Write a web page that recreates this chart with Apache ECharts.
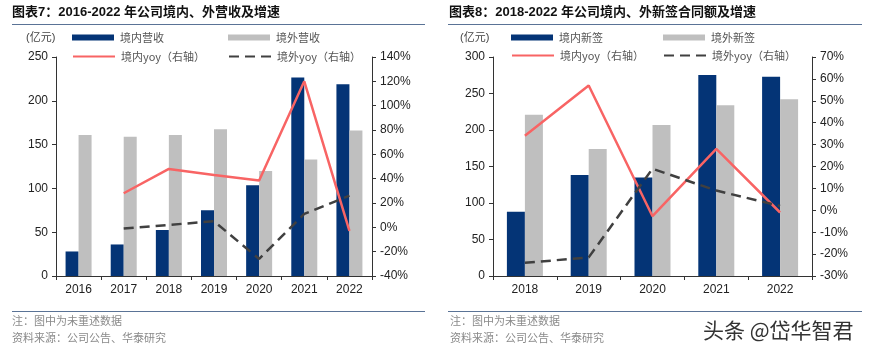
<!DOCTYPE html>
<html><head><meta charset="utf-8">
<script src="https://cdn.jsdelivr.net/npm/echarts@6/dist/echarts.min.js"></script>
<style>html,body{margin:0;padding:0;background:#fff}#c{width:873px;height:355px}</style>
</head><body><div id="c"></div>
<script>
// Chart 7 data
const years7 = ['2016','2017','2018','2019','2020','2021','2022'];
const domRev = [28, 36, 52.5, 75, 103.5, 226.5, 219];
const ovsRev = [161, 159, 161, 167.5, 120, 133, 166];
const domRevYoy = [null, 28, 48, 43, 38.5, 120, -3];
const ovsRevYoy = [null, -1, 2, 5, -26, 11, 26];
// Chart 8 data
const years8 = ['2018','2019','2020','2021','2022'];
const domNew = [88, 138.5, 135, 275.5, 273];
const ovsNew = [221, 174, 207, 234, 242];
const domNewYoy = [34, 57, -2.7, 28, -1];
const ovsNewYoy = [-24, -21.5, 19, 9, 2];

const title7 = '图表7：2016-2022 年公司境内、外营收及增速';
const title8 = '图表8：2018-2022 年公司境内、外新签合同额及增速';
const names7 = ['境内营收','境外营收','境内yoy（右轴）','境外yoy（右轴）'];
const names8 = ['境内新签','境外新签','境内yoy（右轴） ','境外yoy（右轴） '];
const noteText = '注：图中为未重述数据';
const srcText = '资料来源：公司公告、华泰研究';

const C_DARK = '#043476', C_GRAY = '#BFBFBF', C_RED = '#F86464', C_DASH = '#404040';
const NUMF = '"Liberation Sans", Arial, "Noto Sans CJK SC", sans-serif';
const CJKF = '"Noto Sans CJK SC", sans-serif';
const AX = '#333';

const chart = echarts.init(document.getElementById('c'), null, {renderer: 'canvas'});

function yAx(gi, min, max, interval, pos, pct) {
  return {
    type: 'value', gridIndex: gi, min: min, max: max, interval: interval, position: pos,
    axisLine: {show: true, lineStyle: {color: AX, width: 1}},
    axisTick: {show: true, length: 4, lineStyle: {color: AX}},
    axisLabel: {color: '#222', fontSize: 12, fontFamily: NUMF, margin: 8,
      formatter: pct ? '{value}%' : '{value}'},
    splitLine: {show: false}
  };
}
function xAx(gi, data) {
  return {
    type: 'category', gridIndex: gi, data: data,
    axisLine: {show: true, lineStyle: {color: AX, width: 1}},
    axisTick: {show: true, length: 4, alignWithLabel: false, lineStyle: {color: AX}},
    axisLabel: {color: '#222', fontSize: 12, fontFamily: NUMF, margin: 8}
  };
}
function leg(name, left, top, isBar) {
  const l = {
    data: [isBar ? {name: name, icon: 'rect'} : {name: name}],
    left: left, top: top, padding: 0, itemWidth: 42, itemHeight: isBar ? 6 : 14, itemGap: 0,
    textStyle: {color: '#555', fontSize: 11, fontFamily: CJKF, padding: [0, 0, 0, 1]},
    selectedMode: false
  };
  if (!isBar) l.itemStyle = {color: 'rgba(0,0,0,0)', borderWidth: 0, opacity: 0};
  return l;
}

const legends = [
  leg(names7[0], 72, 32, true), leg(names7[1], 228, 32, true),
  leg(names7[2], 72, 51, false), leg(names7[3], 228, 51, false),
  leg(names8[0], 511, 32, true), leg(names8[1], 663, 32, true),
  leg(names8[2], 511, 50, false), leg(names8[3], 663, 50, false)
];

function txt(x, y, s, size, color, weight, font) {
  return {type: 'text', left: x, top: y, silent: true,
    style: {text: s, fontSize: size, fill: color, fontWeight: weight || 'normal', fontFamily: font || CJKF}};
}
function hline(x1, x2, y, color) {
  return {type: 'line', silent: true, shape: {x1: x1, y1: y, x2: x2, y2: y}, style: {stroke: color, lineWidth: 1}};
}

const option = {
  animation: false,
  backgroundColor: '#fff',
  title: [
    {text: title7, left: 12, top: 6, padding: 0, textStyle: {fontSize: 13, fontWeight: 'bold', color: '#111', fontFamily: NUMF}},
    {text: title8, left: 449, top: 6, padding: 0, textStyle: {fontSize: 13, fontWeight: 'bold', color: '#111', fontFamily: NUMF}}
  ],
  legend: legends,
  grid: [
    {left: 56, right: 501, top: 57, bottom: 79, containLabel: false},
    {left: 493, right: 61, top: 57, bottom: 79, containLabel: false}
  ],
  xAxis: [xAx(0, years7), xAx(1, years8)],
  yAxis: [
    yAx(0, 0, 250, 50, 'left', false), yAx(0, -40, 140, 20, 'right', true),
    yAx(1, 0, 300, 50, 'left', false), yAx(1, -30, 70, 10, 'right', true)
  ],
  series: [
    {name: names7[0], type: 'bar', xAxisIndex: 0, yAxisIndex: 0, data: domRev, barWidth: 13, barGap: '0%', itemStyle: {color: C_DARK}},
    {name: names7[1], type: 'bar', xAxisIndex: 0, yAxisIndex: 0, data: ovsRev, barWidth: 13, barGap: '0%', itemStyle: {color: C_GRAY}},
    {name: names7[2], type: 'line', xAxisIndex: 0, yAxisIndex: 1, data: domRevYoy, symbol: 'none', lineStyle: {color: C_RED, width: 2.5}, itemStyle: {color: C_RED}, z: 5},
    {name: names7[3], type: 'line', xAxisIndex: 0, yAxisIndex: 1, data: ovsRevYoy, symbol: 'none', lineStyle: {color: C_DASH, width: 2.5, type: [10, 6]}, itemStyle: {color: C_DASH}, z: 5},
    {name: names8[0], type: 'bar', xAxisIndex: 1, yAxisIndex: 2, data: domNew, barWidth: 18, barGap: '0%', itemStyle: {color: C_DARK}},
    {name: names8[1], type: 'bar', xAxisIndex: 1, yAxisIndex: 2, data: ovsNew, barWidth: 18, barGap: '0%', itemStyle: {color: C_GRAY}},
    {name: names8[2], type: 'line', xAxisIndex: 1, yAxisIndex: 3, data: domNewYoy, symbol: 'none', lineStyle: {color: C_RED, width: 2.5}, itemStyle: {color: C_RED}, z: 5},
    {name: names8[3], type: 'line', xAxisIndex: 1, yAxisIndex: 3, data: ovsNewYoy, symbol: 'none', lineStyle: {color: C_DASH, width: 2.5, type: [10, 6]}, itemStyle: {color: C_DASH}, z: 5}
  ],
  graphic: [
    hline(12, 425, 24.5, '#5a7396'), hline(448, 862, 24.5, '#5a7396'),
    hline(12, 425, 311.5, '#5a7396'), hline(448, 862, 311.5, '#5a7396'),
    txt(26, 32, '(亿元)', 11, '#444', 'normal', NUMF),
    txt(460, 32, '(亿元)', 11, '#444', 'normal', NUMF),
    txt(12, 315, noteText, 11, '#8a8a8a'),
    txt(12, 332, srcText, 11, '#8a8a8a'),
    txt(450, 315, noteText, 11, '#8a8a8a'),
    txt(450, 332, srcText, 11, '#8a8a8a'),
    {type: 'text', left: 702, top: 319, silent: true, z: 100,
      style: {text: '头条 @岱华智君', fontSize: 21, fill: '#333', fontFamily: CJKF, stroke: '#fff', lineWidth: 2}}
  ]
};
chart.setOption(option);
</script>
</body></html>
